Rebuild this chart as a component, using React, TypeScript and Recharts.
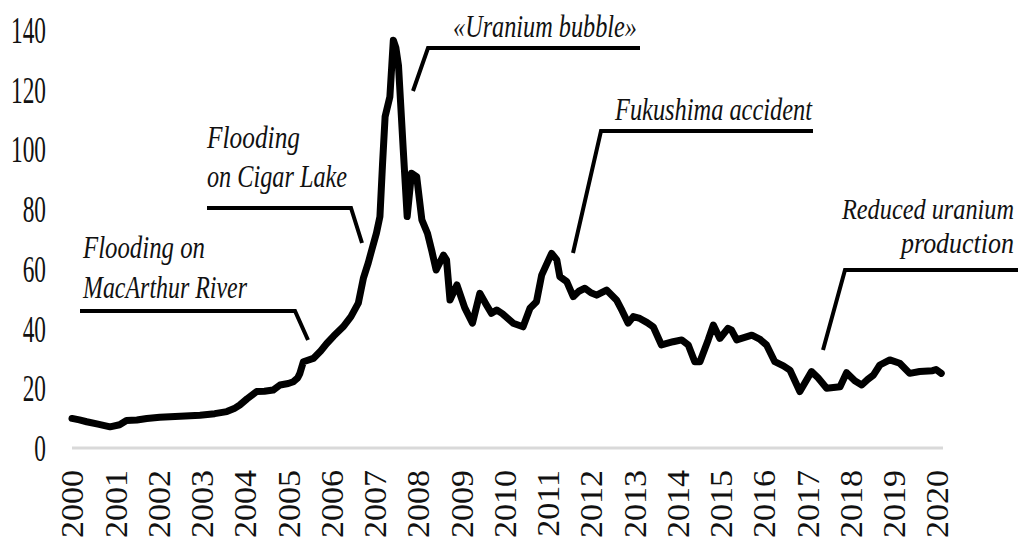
import React from "react";
import { LineChart, Line, XAxis, YAxis } from "recharts";

// Uranium spot price, USD/lb at irregular dates
const dates = [
  2000.0, 2000.17, 2000.34, 2000.6, 2000.88, 2001.1, 2001.26, 2001.5, 2001.73,
  2002.03, 2002.5, 2002.96, 2003.3, 2003.58, 2003.75, 2003.88, 2004.05,
  2004.27, 2004.45, 2004.65, 2004.81, 2005.0, 2005.12, 2005.22, 2005.27,
  2005.35, 2005.58, 2005.75, 2005.89, 2006.05, 2006.27, 2006.45, 2006.62,
  2006.74, 2006.85, 2006.93, 2007.04, 2007.12, 2007.18, 2007.24, 2007.35,
  2007.43, 2007.49, 2007.55, 2007.66, 2007.75, 2007.85, 2007.97, 2008.09,
  2008.22, 2008.32, 2008.42, 2008.59, 2008.66, 2008.74, 2008.9, 2009.08,
  2009.26, 2009.43, 2009.58, 2009.7, 2009.82, 2009.95, 2010.2, 2010.43,
  2010.59, 2010.74, 2010.86, 2011.09, 2011.21, 2011.28, 2011.44, 2011.59,
  2011.72, 2011.86, 2012.0, 2012.13, 2012.36, 2012.59, 2012.72, 2012.86,
  2012.98, 2013.13, 2013.3, 2013.44, 2013.63, 2013.9, 2014.1, 2014.25, 2014.4,
  2014.52, 2014.71, 2014.83, 2014.98, 2015.17, 2015.25, 2015.37, 2015.72,
  2015.9, 2016.06, 2016.25, 2016.45, 2016.6, 2016.83, 2017.1, 2017.25,
  2017.45, 2017.76, 2017.91, 2018.1, 2018.26, 2018.4, 2018.53, 2018.68,
  2018.91, 2019.14, 2019.37, 2019.6, 2019.9, 2019.98, 2020.1,
];

const prices = [
  9.9, 9.4, 8.8, 8.0, 7.1, 7.8, 9.2, 9.4, 9.9, 10.3, 10.6, 11.0, 11.5, 12.2,
  13.2, 14.4, 16.5, 18.9, 19.0, 19.4, 21.1, 21.6, 22.2, 23.5, 25, 28.9, 30,
  32.5, 35, 37.5, 40.6, 44, 48.5, 57, 62, 66.3, 72, 77.5, 95, 111, 117.6,
  136.6, 134, 128, 99.8, 77.5, 92, 90.9, 76.4, 71.9, 66, 59.6, 64.6, 63, 49.6,
  54.6, 47, 41.8, 51.8, 48, 45.1, 46.2, 45, 41.8, 40.6, 46.8, 49, 57.9, 65.2,
  63, 57.4, 55.7, 50.7, 52.5, 53.5, 52, 51.2, 52.9, 49.6, 46, 41.8, 44, 43.4,
  42, 40.6, 34.5, 35.6, 36.2, 34.5, 28.9, 28.9, 36.2, 41.2, 36.7, 40.1, 39.5,
  36.2, 37.8, 36.5, 34.5, 28.9, 27.5, 26.1, 18.9, 25.6, 23.5, 20, 20.5, 25.2,
  22.5, 21.1, 23, 24.4, 27.8, 29.5, 28.4, 25, 25.6, 25.9, 26.3, 25,
];

const yearTicks = [
  2000, 2001, 2002, 2003, 2004, 2005, 2006, 2007, 2008, 2009, 2010, 2011, 2012,
  2013, 2014, 2015, 2016, 2017, 2018, 2019, 2020,
];

const priceTicks = [0, 20, 40, 60, 80, 100, 120, 140];

const data = dates.map((t, i) => ({ t, price: prices[i] }));

const SERIF = "'Liberation Serif', 'Times New Roman', serif";
const SQUASH = 0.8; // the reference's italic text is horizontally condensed

function YTick(props: any) {
  const { x, y, payload } = props;
  return (
    <g transform={`translate(${x},${y}) scale(0.63,1)`}>
      <text textAnchor="end" dy="0.35em" fontSize={37} fontFamily={SERIF} fill="#111">
        {payload.value}
      </text>
    </g>
  );
}

function XTick(props: any) {
  const { x, y, payload } = props;
  return (
    <g transform={`translate(${x},${y}) scale(0.95,1) rotate(-90)`}>
      <text textAnchor="end" dy="0.35em" fontSize={34} fontFamily={SERIF} fill="#111">
        {payload.value}
      </text>
    </g>
  );
}

// annotation callouts: text lines + leader line (pixel layout of the reference)
const notes = [
  {
    lines: [{ s: "«Uranium bubble»", x: 453, y: 37, w: 184, anchor: "start", fs: 31 }],
    path: "M640,48 L428,48 L413,91",
  },
  {
    lines: [
      { s: "Flooding", x: 207, y: 148, w: 93, anchor: "start", fs: 31 },
      { s: "on Cigar Lake", x: 207, y: 187, w: 140, anchor: "start", fs: 31 },
    ],
    path: "M207,208 L351,208 L362,243",
  },
  {
    lines: [
      { s: "Flooding on", x: 83, y: 258, w: 122, anchor: "start", fs: 31 },
      { s: "MacArthur River", x: 83, y: 298, w: 164, anchor: "start", fs: 31 },
    ],
    path: "M80,311 L295,311 L308,340",
  },
  {
    lines: [{ s: "Fukushima accident", x: 615, y: 120, w: 197, anchor: "start", fs: 31 }],
    path: "M813,131 L601,131 L573,253",
  },
  {
    lines: [
      { s: "Reduced uranium", x: 1014, y: 219, w: 172, anchor: "end", fs: 29 },
      { s: "production", x: 1014, y: 253, w: 113, anchor: "end", fs: 29 },
    ],
    path: "M1018,270 L845,270 L823,350",
  },
];

export default function App() {
  return (
    <div
      style={{
        position: "absolute",
        left: 0,
        top: 0,
        width: 1020,
        height: 544,
        background: "#fff",
        fontFamily: SERIF,
      }}
    >
      <LineChart
        width={1020}
        height={544}
        data={data}
        margin={{ top: 30, right: 77, bottom: 0, left: 12 }}
      >
        <XAxis
          dataKey="t"
          type="number"
          domain={[2000, 2020.14]}
          ticks={yearTicks}
          interval={0}
          height={96}
          tickSize={0}
          tickMargin={22}
          tickLine={false}
          axisLine={{ stroke: "#d9d9d9", strokeWidth: 3 }}
          tick={<XTick />}
        />
        <YAxis
          type="number"
          domain={[0, 140]}
          ticks={priceTicks}
          width={60}
          tickSize={0}
          tickMargin={26}
          axisLine={false}
          tickLine={false}
          tick={<YTick />}
        />
        <Line
          type="linear"
          dataKey="price"
          stroke="#000"
          strokeWidth={7}
          strokeLinejoin="round"
          strokeLinecap="round"
          dot={false}
          activeDot={false}
          isAnimationActive={false}
        />
      </LineChart>
      <svg
        width={1020}
        height={544}
        style={{ position: "absolute", left: 0, top: 0, pointerEvents: "none" }}
      >
        {notes.map((n, i) => (
          <g key={i}>
            {n.lines.map((l, j) => (
              <g key={j} transform={`translate(${l.x},${l.y}) scale(${SQUASH},1)`}>
                <text
                  x={0}
                  y={0}
                  textAnchor={l.anchor as any}
                  fontSize={l.fs}
                  fontStyle="italic"
                  fontFamily={SERIF}
                  fill="#111"
                  textLength={l.w / SQUASH}
                  lengthAdjust="spacingAndGlyphs"
                >
                  {l.s}
                </text>
              </g>
            ))}
            <path d={n.path} fill="none" stroke="#000" strokeWidth={4} />
          </g>
        ))}
      </svg>
    </div>
  );
}
